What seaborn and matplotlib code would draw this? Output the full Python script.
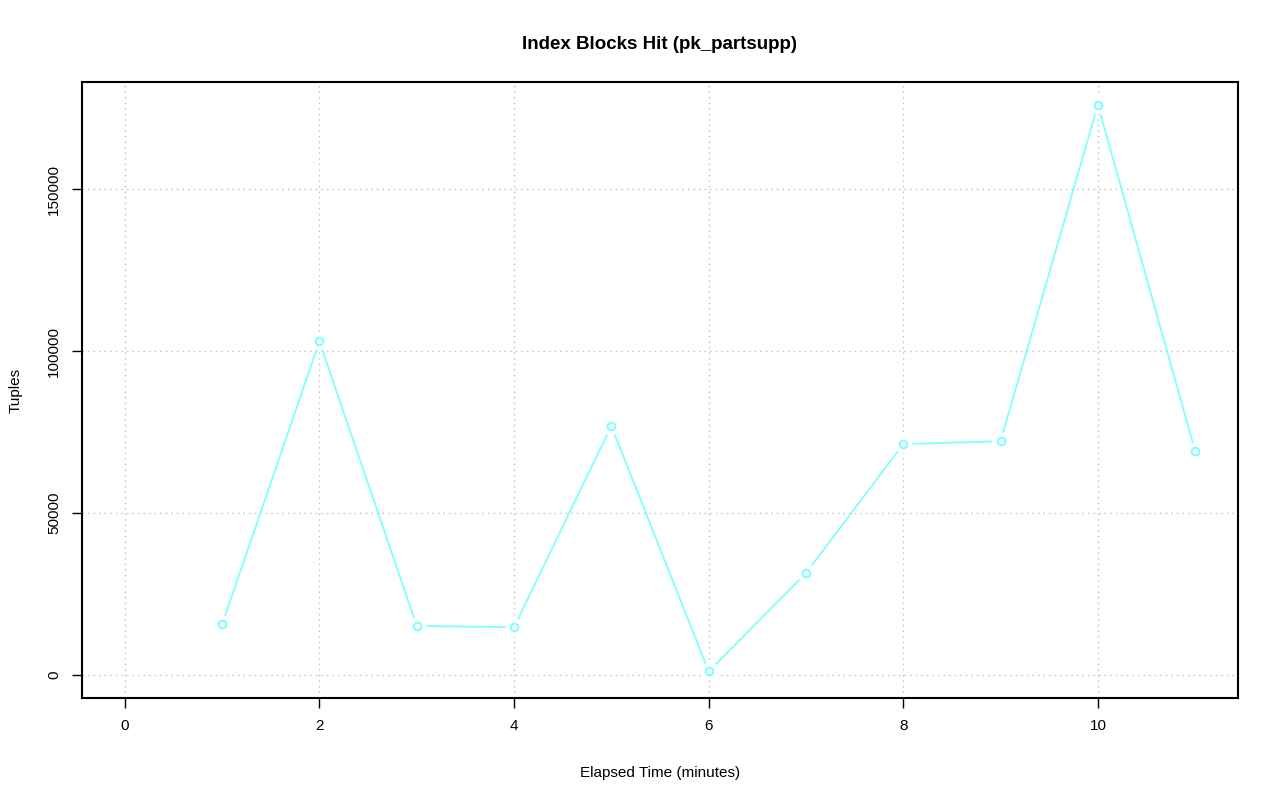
import numpy as np
import pandas as pd
import matplotlib
matplotlib.use("Agg")
import matplotlib.pyplot as plt
import seaborn as sns

minutes = [1, 2, 3, 4, 5, 6, 7, 8, 9, 10, 11]
tuples = [15700, 103000, 15200, 14800, 76900, 1200, 31500, 71300, 72200, 176000, 69100]
x_ticks = [0, 2, 4, 6, 8, 10]
y_ticks = [0, 50000, 100000, 150000]

sns.set_theme(style="white")
plt.rcParams['font.family'] = ['Liberation Sans', 'DejaVu Sans']

df = pd.DataFrame({"minutes": minutes, "tuples": tuples})

fig = plt.figure(figsize=(12.8, 8.01), dpi=100)
ax = fig.add_axes([82/1280, 1 - 698/801, (1238-82)/1280, (698-82)/801])

color = "#7FFFFF"
sns.lineplot(data=df, x="minutes", y="tuples", ax=ax, color=color, linewidth=1.3, zorder=3)
ax.scatter(minutes, tuples, s=170, color="white", zorder=4, linewidths=0)
ax.scatter(minutes, tuples, s=30, facecolors="white", edgecolors=color, linewidths=1.5, zorder=5)

xmin, xmax = 0, 11
ymin, ymax = 0, 176000
xr = (xmax - xmin) * 0.04
yr = (ymax - ymin) * 0.04
ax.set_xlim(xmin - xr, xmax + xr)
ax.set_ylim(ymin - yr, ymax + yr)

ax.set_xticks(x_ticks)
ax.set_yticks(y_ticks)
ax.set_xticklabels([str(t) for t in x_ticks], fontsize=11)
ax.set_yticklabels([str(t) for t in y_ticks], fontsize=11, rotation=90, va="center")
ax.tick_params(axis="both", direction="out", length=7, width=1, color="black", labelcolor="black", pad=8, left=True, bottom=True)

for t in x_ticks:
    ax.axvline(t, color="#BEBEBE", linestyle=(0, (1, 3)), linewidth=1, zorder=1)
for t in y_ticks:
    ax.axhline(t, color="#BEBEBE", linestyle=(0, (1, 3)), linewidth=1, zorder=1)

for s in ax.spines.values():
    s.set_visible(True)
    s.set_color("black")
    s.set_linewidth(1.5)

ax.set_xlabel("Elapsed Time (minutes)", fontsize=11, labelpad=24, color="black")
ax.set_ylabel("Tuples", fontsize=11, labelpad=18, color="black")
ax.set_title("Index Blocks Hit (pk_partsupp)", fontsize=13.5, fontweight="bold", pad=24, color="black")

fig.savefig("out.png", dpi=100, facecolor="white")
